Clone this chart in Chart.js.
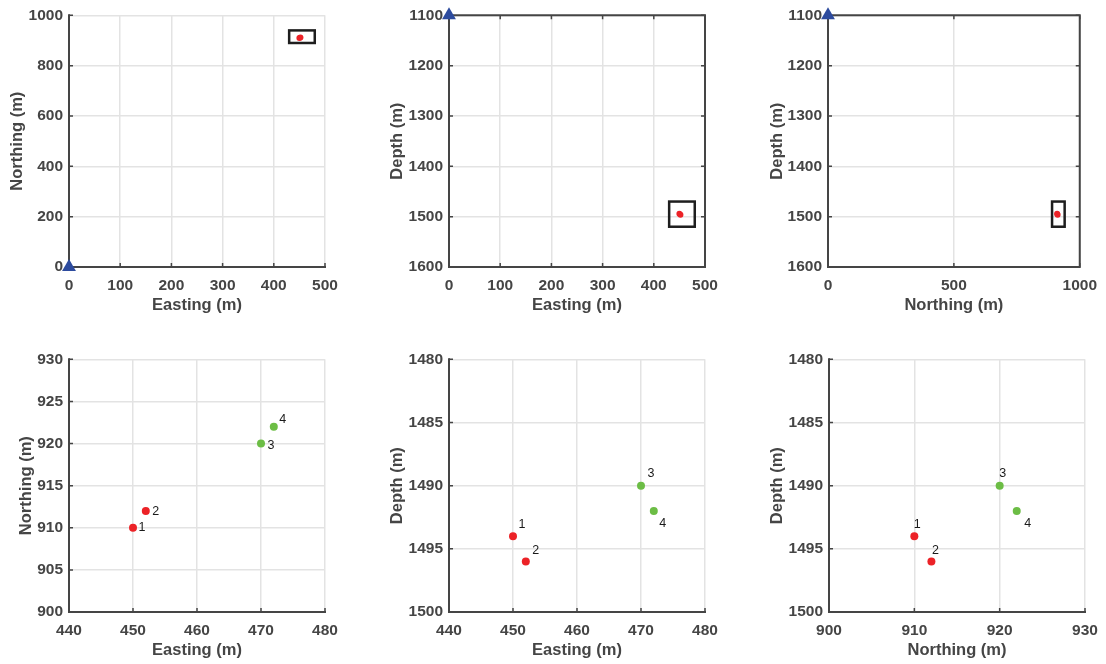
<!DOCTYPE html>
<html lang="en">
<head>
<meta charset="UTF-8">
<title>Event locations</title>
<script src="https://cdn.jsdelivr.net/npm/chart.js"></script>
<style>
  html, body { margin: 0; padding: 0; background: #fff; overflow: hidden; }
  #wrap { position: relative; width: 1106px; height: 664px; }
  #wrap canvas { position: absolute; }
</style>
</head>
<body>
<div id="wrap">
  <canvas id="planFull"></canvas>
  <canvas id="eastDepthFull"></canvas>
  <canvas id="northDepthFull"></canvas>
  <canvas id="planZoom"></canvas>
  <canvas id="eastDepthZoom"></canvas>
  <canvas id="northDepthZoom"></canvas>
</div>
<script>
// located events
const eventIds = ['1', '2', '3', '4'];
const easting  = [450, 452, 470, 472];
const northing = [910, 912, 920, 922];
const depth    = [1494, 1496, 1490, 1492];
const cluster  = [0, 0, 1, 1];

// receiver position
const stationEasting  = [0];
const stationNorthing = [0];
const stationDepth    = [1100];

// outline of the zoom window in the overview plots
const boxEasting  = [430, 480];
const boxNorthing = [890, 940];
const boxDepth    = [1470, 1520];

// tick values
const eastTicksFull   = [0, 100, 200, 300, 400, 500];
const northTicksPlan  = [0, 200, 400, 600, 800, 1000];
const northTicksSide  = [0, 500, 1000];
const depthTicksFull  = [1100, 1200, 1300, 1400, 1500, 1600];
const eastTicksZoom   = [440, 450, 460, 470, 480];
const northTicksZoomY = [900, 905, 910, 915, 920, 925, 930];
const northTicksZoomX = [900, 910, 920, 930];
const depthTicksZoom  = [1480, 1485, 1490, 1495, 1500];

const coords   = { e: easting, n: northing, d: depth };
const stations = { e: stationEasting, n: stationNorthing, d: stationDepth };
const boxes    = { e: boxEasting, n: boxNorthing, d: boxDepth };
const titles   = { e: 'Easting (m)', n: 'Northing (m)', d: 'Depth (m)' };

const clusterColors = ['#ec2227', '#6cbd45'];
const stationColor = '#2d4b9e';
const axisColor = '#454545';
const fontFamily = 'Helvetica, Arial, "Liberation Sans", sans-serif';

const panels = [
  { id: 'planFull', left: 69, top: 12, h: 255, x: 'e', y: 'n', xTicks: eastTicksFull, yTicks: northTicksPlan,
    overview: true, boxed: false, yGap: 8 },
  { id: 'eastDepthFull', left: 449, top: 12, h: 255, x: 'e', y: 'd', xTicks: eastTicksFull, yTicks: depthTicksFull,
    overview: true, boxed: true, yGap: 8 },
  { id: 'northDepthFull', left: 828, top: 12, h: 255, x: 'n', y: 'd', xTicks: northTicksSide, yTicks: depthTicksFull,
    overview: true, boxed: true, yGap: 9 },
  { id: 'planZoom', left: 69, top: 356, h: 256, x: 'e', y: 'n', xTicks: eastTicksZoom, yTicks: northTicksZoomY,
    overview: false, boxed: false, yGap: 17,
    labelOffsets: [[9, 0], [10, 1], [10, 2], [9, -7]] },
  { id: 'eastDepthZoom', left: 449, top: 356, h: 256, x: 'e', y: 'd', xTicks: eastTicksZoom, yTicks: depthTicksZoom,
    overview: false, boxed: false, yGap: 8,
    labelOffsets: [[9, -12], [10, -11], [10, -12], [9, 13]] },
  { id: 'northDepthZoom', left: 829, top: 356, h: 256, x: 'n', y: 'd', xTicks: northTicksZoomX, yTicks: depthTicksZoom,
    overview: false, boxed: false, yGap: 8,
    labelOffsets: [[3, -12], [4, -11], [3, -12], [11, 13]] }
];

// axis lines, inward ticks, zoom outline and event numbers
const framePlugin = {
  id: 'frame',
  beforeDatasetsDraw(chart, args, opts) {
    const { ctx, chartArea: a, scales: { x, y } } = chart;
    ctx.save();
    ctx.strokeStyle = axisColor;
    ctx.lineWidth = 2;
    ctx.lineCap = 'square';
    ctx.beginPath();
    ctx.moveTo(a.left, a.top);
    ctx.lineTo(a.left, a.bottom);
    ctx.lineTo(a.right, a.bottom);
    if (opts.boxed) {
      ctx.lineTo(a.right, a.top);
      ctx.closePath();
    }
    ctx.stroke();

    ctx.lineWidth = 1.5;
    ctx.lineCap = 'butt';
    ctx.beginPath();
    x.ticks.forEach(t => {
      const px = x.getPixelForValue(t.value);
      ctx.moveTo(px, a.bottom); ctx.lineTo(px, a.bottom - 4);
      if (opts.boxed) { ctx.moveTo(px, a.top); ctx.lineTo(px, a.top + 4); }
    });
    y.ticks.forEach(t => {
      const py = y.getPixelForValue(t.value);
      ctx.moveTo(a.left, py); ctx.lineTo(a.left + 4, py);
      if (opts.boxed) { ctx.moveTo(a.right, py); ctx.lineTo(a.right - 4, py); }
    });
    ctx.stroke();

    if (opts.outline) {
      const x0 = x.getPixelForValue(opts.outline.x[0]);
      const x1 = x.getPixelForValue(opts.outline.x[1]);
      const y0 = y.getPixelForValue(opts.outline.y[0]);
      const y1 = y.getPixelForValue(opts.outline.y[1]);
      ctx.strokeStyle = '#1e1e1e';
      ctx.lineWidth = 2.5;
      ctx.strokeRect(Math.min(x0, x1), Math.min(y0, y1), Math.abs(x1 - x0), Math.abs(y1 - y0));
    }
    ctx.restore();
  },
  afterDatasetsDraw(chart, args, opts) {
    if (!opts.labels) return;
    const { ctx, scales: { x, y } } = chart;
    ctx.save();
    ctx.font = '12.5px ' + fontFamily;
    ctx.fillStyle = '#1a1a1a';
    ctx.textAlign = 'center';
    ctx.textBaseline = 'middle';
    opts.labels.text.forEach((txt, i) => {
      const px = x.getPixelForValue(opts.labels.xs[i]);
      const py = y.getPixelForValue(opts.labels.ys[i]);
      const [dx, dy] = opts.labels.offsets[i];
      ctx.fillText(txt, px + dx, py + dy);
    });
    ctx.restore();
  }
};

function fixedTicks(values) {
  return scale => { scale.ticks = values.map(v => ({ value: v })); };
}

function axisOptions(values, title, isY, reverse, gap) {
  return {
    type: 'linear',
    position: isY ? 'left' : 'bottom',
    min: Math.min(...values),
    max: Math.max(...values),
    reverse: !!reverse,
    afterBuildTicks: fixedTicks(values),
    afterFit: isY ? s => { s.width = 69; } : s => { s.height = 50; },
    grid: { color: '#e3e3e3', lineWidth: 1.5, drawTicks: false },
    border: { display: false },
    ticks: {
      autoSkip: false,
      maxRotation: 0,
      padding: isY ? 6 : 9,
      color: axisColor,
      font: { family: fontFamily, size: 15.5, weight: 'bold' },
      callback: v => String(v)
    },
    title: {
      display: true,
      text: title,
      color: axisColor,
      font: { family: fontFamily, size: 16.5, weight: 'bold' },
      padding: isY ? { top: gap, bottom: 0 } : { top: 0, bottom: 2 }
    }
  };
}

function makePanel(p) {
  const W = 256, yW = 69, xH = 50, padT = 12, padR = 22;
  const cv = document.getElementById(p.id);
  cv.width = yW + W + padR;
  cv.height = padT + p.h + xH;
  cv.style.left = (p.left - yW) + 'px';
  cv.style.top = (p.top - padT) + 'px';

  const xs = coords[p.x], ys = coords[p.y];
  const datasets = [];
  if (p.overview) {
    datasets.push({
      data: stations[p.x].map((v, i) => ({ x: v, y: stations[p.y][i] })),
      pointStyle: 'triangle',
      pointRadius: 8,
      backgroundColor: stationColor,
      borderColor: stationColor,
      borderWidth: 0,
      clip: false
    });
    datasets.push({
      data: xs.map((v, i) => ({ x: v, y: ys[i] })).filter((_, i) => cluster[i] === 0),
      pointRadius: 3,
      backgroundColor: clusterColors[0],
      borderWidth: 0
    });
  } else {
    clusterColors.forEach((col, c) => {
      datasets.push({
        data: xs.map((v, i) => ({ x: v, y: ys[i] })).filter((_, i) => cluster[i] === c),
        pointRadius: 4,
        backgroundColor: col,
        borderWidth: 0,
        clip: false
      });
    });
  }

  new Chart(cv.getContext('2d'), {
    type: 'scatter',
    data: { datasets },
    options: {
      responsive: false,
      animation: false,
      layout: { padding: { top: padT, right: padR, left: 0, bottom: 0 } },
      scales: {
        x: axisOptions(p.xTicks, titles[p.x], false, false, 0),
        y: axisOptions(p.yTicks, titles[p.y], true, p.y === 'd', p.yGap)
      },
      plugins: {
        legend: { display: false },
        tooltip: { enabled: false },
        frame: {
          boxed: p.boxed,
          outline: p.overview ? { x: boxes[p.x], y: boxes[p.y] } : null,
          labels: p.overview ? null : { text: eventIds, xs: xs, ys: ys, offsets: p.labelOffsets }
        }
      }
    },
    plugins: [framePlugin]
  });
}

panels.forEach(makePanel);
</script>
</body>
</html>
